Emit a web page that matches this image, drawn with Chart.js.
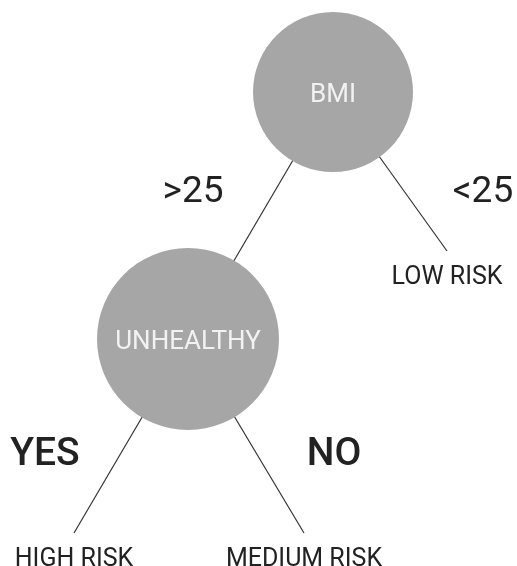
<!DOCTYPE html>
<html>
<head>
<meta charset="utf-8">
<script src="https://cdn.jsdelivr.net/npm/chart.js@4/dist/chart.umd.min.js"></script>
<style>
  html, body { margin: 0; padding: 0; background: #fff; }
  #wrap { width: 517px; height: 566px; position: relative; }
</style>
</head>
<body>
<div id="wrap"><canvas id="tree"></canvas></div>
<script>
// decision tree, laid out on a 517 x 566 plane
const nodeLabels = ['BMI', 'UNHEALTHY'];
const nodeX = [333, 188];
const nodeY = [92, 339];
const nodeR = [80, 91];

const leafLabels = ['LOW RISK', 'HIGH RISK', 'MEDIUM RISK'];
const leafX = [447, 74, 304];
const leafY = [251, 533, 533];
const leafParent = [0, 1, 1];

const branchLabels = ['>25', '<25', 'YES', 'NO'];
const branchX = [193, 483, 45, 334];
const branchY = [202, 202, 465, 465]; // baselines
const branchSize = [37, 37, 39, 39];
const branchWeight = [400, 400, 500, 500];

// edges: parent node -> child (node 1 hangs off node 0)
const edges = [[nodeX[0], nodeY[0], nodeX[1], nodeY[1]]];
leafParent.forEach((p, i) => edges.push([nodeX[p], nodeY[p], leafX[i], leafY[i]]));

const treeText = {
  id: 'treeText',
  afterDatasetsDraw(chart) {
    const { ctx, scales: { x, y } } = chart;
    ctx.save();
    ctx.textAlign = 'center';
    ctx.textBaseline = 'alphabetic';
    ctx.fillStyle = '#f2f2f2';
    ctx.font = '400 26px Roboto';
    nodeLabels.forEach((t, i) => ctx.fillText(t, x.getPixelForValue(nodeX[i]), y.getPixelForValue(nodeY[i] + 10)));
    ctx.fillStyle = '#222';
    ctx.font = '400 25px Roboto';
    leafLabels.forEach((t, i) => ctx.fillText(t, x.getPixelForValue(leafX[i]), y.getPixelForValue(leafY[i] + 33)));
    branchLabels.forEach((t, i) => {
      ctx.font = branchWeight[i] + ' ' + branchSize[i] + 'px Roboto';
      ctx.fillText(t, x.getPixelForValue(branchX[i]), y.getPixelForValue(branchY[i]));
    });
    ctx.restore();
  }
};

const datasets = [{
  type: 'bubble',
  order: 0,
  clip: false,
  data: nodeX.map((v, i) => ({ x: v, y: nodeY[i], r: nodeR[i] })),
  backgroundColor: '#a6a6a6',
  borderWidth: 0,
  hoverRadius: 0,
}];
edges.forEach(e => datasets.push({
  type: 'line',
  order: 1,
  clip: false,
  data: [{ x: e[0], y: e[1] }, { x: e[2], y: e[3] }],
  borderColor: '#333',
  borderWidth: 1.2,
  pointRadius: 0,
  fill: false,
}));

new Chart(document.getElementById('tree'), {
  type: 'scatter',
  data: { datasets },
  options: {
    responsive: true,
    maintainAspectRatio: false,
    animation: false,
    events: [],
    layout: { padding: 0, autoPadding: false },
    plugins: { legend: { display: false }, tooltip: { enabled: false } },
    scales: {
      x: { type: 'linear', min: 0, max: 517, display: false },
      y: { type: 'linear', min: 0, max: 566, reverse: true, display: false },
    },
  },
  plugins: [treeText],
});
</script>
</body>
</html>
